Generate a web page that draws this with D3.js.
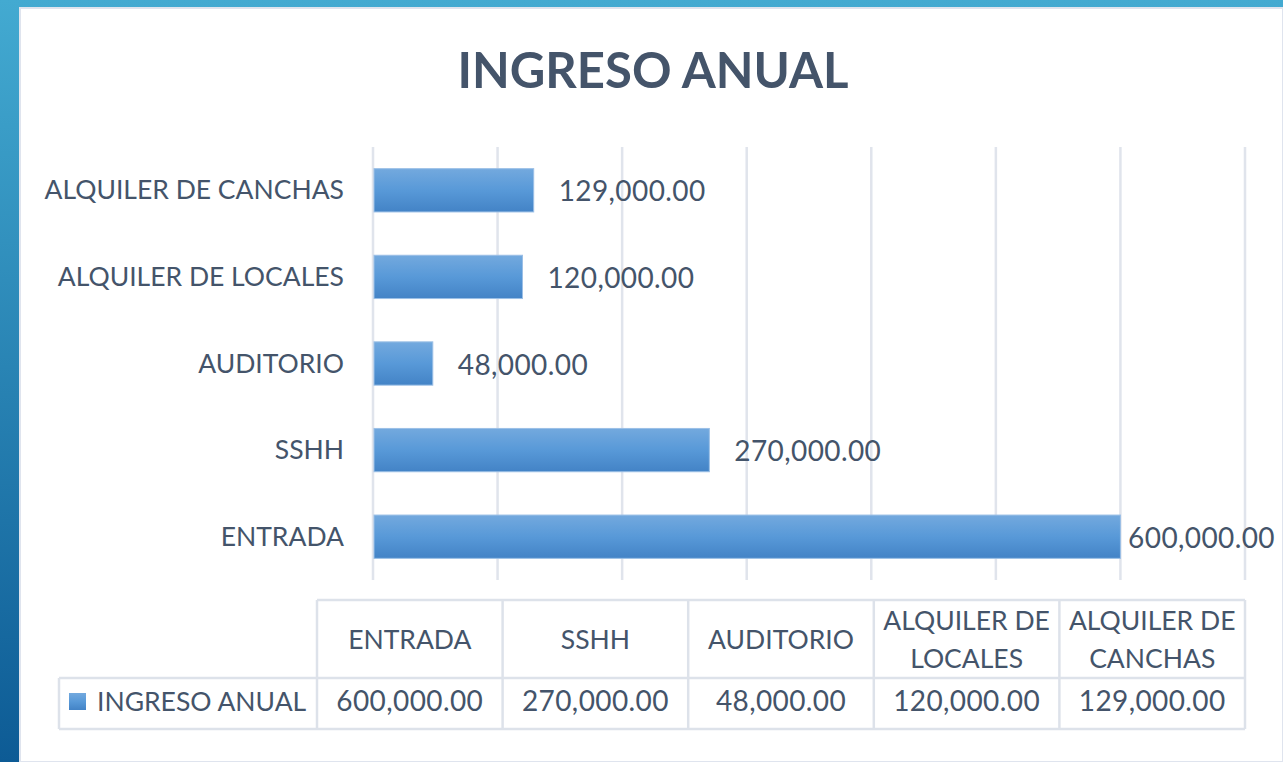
<!DOCTYPE html>
<html>
<head>
<meta charset="utf-8">
<script src="https://cdn.jsdelivr.net/npm/d3@7"></script>
<style>
  body { margin: 0; overflow: hidden; }
  text { font-family: Lato, "Liberation Sans", sans-serif; fill: #44546a; }
</style>
</head>
<body>
<div id="chart"></div>
<script>
// data (table order)
var categories = ["ENTRADA", "SSHH", "AUDITORIO", "ALQUILER DE LOCALES", "ALQUILER DE CANCHAS"]
var values = [600000, 270000, 48000, 120000, 129000]
var seriesName = "INGRESO ANUAL"
var chartTitle = "INGRESO ANUAL"
var tickValues = [0, 100000, 200000, 300000, 400000, 500000, 600000, 700000]

var width = 1283
var height = 762

var fmt = d3.format(",.2f")
var rows = categories.map(function (c, i) { return { cat: c, value: values[i] } })

var svg = d3.select("#chart")
  .append("svg")
  .attr("width", width)
  .attr("height", height)

var defs = svg.append("defs")

// blue frame behind the white panel
var bg = defs.append("linearGradient").attr("id", "bgGrad")
  .attr("x1", 0).attr("y1", 0).attr("x2", 0).attr("y2", 1)
bg.append("stop").attr("offset", "0%").attr("stop-color", "#43aad1")
bg.append("stop").attr("offset", "100%").attr("stop-color", "#0d5b95")

var barGrad = defs.append("linearGradient").attr("id", "barGrad")
  .attr("x1", 0).attr("y1", 0).attr("x2", 0).attr("y2", 1)
barGrad.append("stop").attr("offset", "0%").attr("stop-color", "#73a9de")
barGrad.append("stop").attr("offset", "50%").attr("stop-color", "#5899d8")
barGrad.append("stop").attr("offset", "100%").attr("stop-color", "#4383c6")

svg.append("rect")
  .attr("width", width).attr("height", height)
  .attr("fill", "url(#bgGrad)")

svg.append("rect")
  .attr("x", 20).attr("y", 8)
  .attr("width", width - 20).attr("height", height - 8)
  .attr("fill", "#fff")
  .attr("stroke", "#dfe4ee")
  .attr("stroke-width", 2)

// title
svg.append("text")
  .attr("x", 653)
  .attr("y", 88)
  .attr("text-anchor", "middle")
  .style("font-size", "49px")
  .style("font-weight", "bold")
  .text(chartTitle)

// scales
var x = d3.scaleLinear()
  .domain([0, 700000])
  .range([373, 1245])

var y = d3.scaleBand()
  .domain(categories.slice().reverse()) // first category at the bottom, like excel
  .range([147, 580])
  .paddingInner(0.5)
  .paddingOuter(0.25)

// gridlines
svg.append("g")
  .selectAll("line")
  .data(tickValues)
  .enter()
  .append("line")
  .attr("x1", function (d) { return x(d) })
  .attr("x2", function (d) { return x(d) })
  .attr("y1", 147)
  .attr("y2", 580)
  .attr("stroke", "#e0e4ec")
  .attr("stroke-width", 2.5)

// bars
svg.append("g")
  .selectAll("rect")
  .data(rows)
  .enter()
  .append("rect")
  .attr("x", x(0) + 1)
  .attr("y", function (d) { return y(d.cat) })
  .attr("width", function (d) { return x(d.value) - x(0) - 1 })
  .attr("height", y.bandwidth())
  .attr("fill", "url(#barGrad)")
  .attr("stroke", "#9bbfe6")
  .attr("stroke-width", 1)

// category labels
svg.append("g")
  .selectAll("text")
  .data(rows)
  .enter()
  .append("text")
  .attr("x", 344)
  .attr("y", function (d) { return y(d.cat) + y.bandwidth() / 2 + 9 })
  .attr("text-anchor", "end")
  .style("font-size", "26.5px")
  .text(function (d) { return d.cat })

// value labels (pulled back in when they would run off the panel)
svg.append("g")
  .selectAll("text")
  .data(rows)
  .enter()
  .append("text")
  .attr("y", function (d) { return y(d.cat) + y.bandwidth() / 2 + 11 })
  .style("font-size", "28px")
  .style("letter-spacing", "0.4px")
  .text(function (d) { return fmt(d.value) })
  .attr("x", function (d) {
    var w = this.getComputedTextLength()
    return Math.min(x(d.value) + 25, width - 8 - w)
  })

// data table
var col = d3.scaleBand()
  .domain(categories)
  .range([317, 1245])

var tTop = 600, tMid = 678, tBottom = 729
var legendLeft = 59
var tableLine = "#dde2ea"

var table = svg.append("g")
  .attr("stroke", tableLine)
  .attr("stroke-width", 2.5)
  .attr("fill", "none")

table.append("line").attr("x1", 317).attr("x2", 1245).attr("y1", tTop).attr("y2", tTop)
table.append("line").attr("x1", legendLeft).attr("x2", 1245).attr("y1", tMid).attr("y2", tMid)
table.append("line").attr("x1", legendLeft).attr("x2", 1245).attr("y1", tBottom).attr("y2", tBottom)
table.append("line").attr("x1", legendLeft).attr("x2", legendLeft).attr("y1", tMid).attr("y2", tBottom)
table.selectAll(".v")
  .data(categories.concat(["end"]))
  .enter()
  .append("line")
  .attr("x1", function (d, i) { return 317 + i * col.bandwidth() })
  .attr("x2", function (d, i) { return 317 + i * col.bandwidth() })
  .attr("y1", tTop)
  .attr("y2", tBottom)

// header cells, wrapped word by word to the column width
var header = svg.append("g")
rows.forEach(function (d) {
  var cx = col(d.cat) + col.bandwidth() / 2
  var t = header.append("text")
    .attr("text-anchor", "middle")
    .style("font-size", "26.5px")
  var words = d.cat.split(" ")
  var lines = []
  var line = []
  words.forEach(function (w) {
    line.push(w)
    t.text(line.join(" "))
    if (t.node().getComputedTextLength() > col.bandwidth() - 8 && line.length > 1) {
      line.pop()
      lines.push(line.join(" "))
      line = [w]
    }
  })
  lines.push(line.join(" "))
  t.text(null)
  var cy = (tTop + tMid) / 2
  var lh = 38
  lines.forEach(function (l, i) {
    t.append("tspan")
      .attr("x", cx)
      .attr("y", cy + 9.5 + (i - (lines.length - 1) / 2) * lh)
      .text(l)
  })
})

// value cells
svg.append("g")
  .selectAll("text")
  .data(rows)
  .enter()
  .append("text")
  .attr("x", function (d) { return col(d.cat) + col.bandwidth() / 2 })
  .attr("y", 711)
  .attr("text-anchor", "middle")
  .style("font-size", "28px")
  .style("letter-spacing", "0.4px")
  .text(function (d) { return fmt(d.value) })

// legend key in the table
svg.append("rect")
  .attr("x", 69).attr("y", 693)
  .attr("width", 17).attr("height", 17)
  .attr("fill", "url(#barGrad)")

svg.append("text")
  .attr("x", 97)
  .attr("y", 711)
  .style("font-size", "26.5px")
  .text(seriesName)
</script>
</body>
</html>
